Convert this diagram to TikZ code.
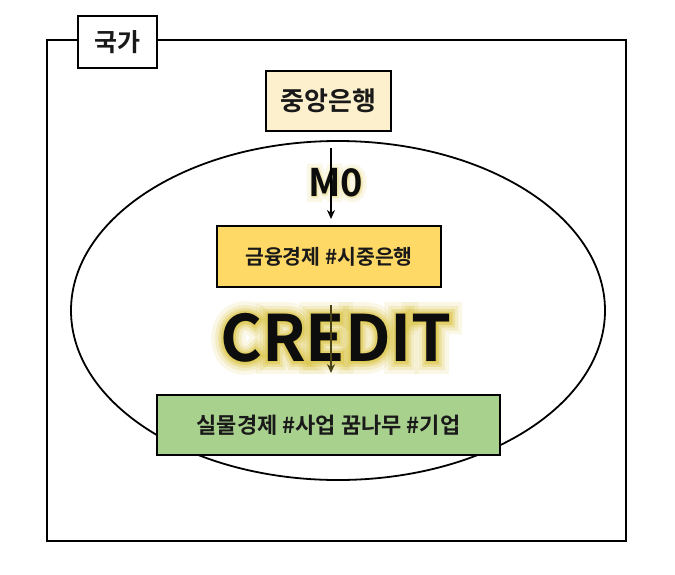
\documentclass[tikz,border=0pt]{standalone}
\usepackage{fontspec}
\setmainfont{Noto Sans CJK KR}[BoldFont={* Bold}]
\newfontfamily\kr{Noto Sans CJK KR Bold}
\newfontfamily\glowa{Noto Sans CJK KR Bold}[FakeBold=8]
\newfontfamily\glowb{Noto Sans CJK KR Bold}[FakeBold=16]
\newfontfamily\glowc{Noto Sans CJK KR Bold}[FakeBold=26]
\newfontfamily\glowd{Noto Sans CJK KR Bold}[FakeBold=38]
\usetikzlibrary{arrows.meta}
\definecolor{cream}{HTML}{FDF0CD}
\definecolor{gold}{HTML}{FFD966}
\definecolor{leaf}{HTML}{A9D18E}
\definecolor{glowcol}{HTML}{D9C23A}
\definecolor{olive}{HTML}{4A4318}
\tikzset{
  box/.style={draw=black, line width=2.2pt, inner sep=0pt, font=\kr, text=black!90},
  frame/.style={draw=black, line width=2.2pt},
  flow/.style={line width=1.6pt, -{Stealth[length=9pt,width=8pt]}},
  glowtext/.style={text=glowcol, opacity=#1}
}
\begin{document}
\begin{tikzpicture}[x=1pt,y=-1pt]
\useasboundingbox[fill=white] (0,0) rectangle (675,574);
% outer frame
\draw[frame] (47,40) rectangle (626,541);
% country label
\node[box, fill=white, minimum width=79pt, minimum height=52pt, font=\kr\fontsize{25}{27}\selectfont] (country) at (117.5,42) {국가};
% ellipse
\draw[frame, line width=1.8pt] (338,310.5) ellipse [x radius=267, y radius=169.5];
\coordinate (ell) at (338,310.5);
% central bank
\node[box, fill=cream, minimum width=125pt, minimum height=60pt, font=\kr\fontsize{26}{28}\selectfont] (cb) at (328.5,101) {중앙은행};
% M0
\node[glowtext=0.12, font=\glowc\fontsize{38}{40}\selectfont] (m0g2) at (336,183) {M0};
\node[glowtext=0.2, font=\glowa\fontsize{38}{40}\selectfont] (m0g) at (336,183) {M0};
\node[font=\kr\fontsize{38}{40}\selectfont, text=black!95] (m0) at (336,183) {M0};
\coordinate (a1s) at (331,148);
\coordinate (a1e) at (331,219);
\draw[flow, black] (a1s) -- (a1e);
% financial economy
\node[box, fill=gold, minimum width=224pt, minimum height=61pt, font=\kr\fontsize{20.5}{22}\selectfont] (fin) at (329,256.5) {금융경제 \#시중은행};
% CREDIT glow
\node[glowtext=0.12, font=\glowd\fontsize{64}{66}\selectfont] (g4) at (336,338) {CREDIT};
\node[glowtext=0.2, font=\glowc\fontsize{64}{66}\selectfont] (g3) at (336,338) {CREDIT};
\node[glowtext=0.3, font=\glowb\fontsize{64}{66}\selectfont] (g2) at (336,338) {CREDIT};
\node[glowtext=0.45, font=\glowa\fontsize{64}{66}\selectfont] (g1) at (336,338) {CREDIT};
\node[font=\kr\fontsize{64}{66}\selectfont, text=black!95] (credit) at (336,338) {CREDIT};
\coordinate (a2s) at (331,305);
\coordinate (a2e) at (331,373);
\draw[flow, olive] (a2s) -- (a2e);
% real economy
\node[box, fill=leaf, minimum width=343pt, minimum height=60pt, font=\kr\fontsize{22}{24}\selectfont] (real) at (328.5,425) {실물경제 \#사업 꿈나무 \#기업};
\end{tikzpicture}
\end{document}
